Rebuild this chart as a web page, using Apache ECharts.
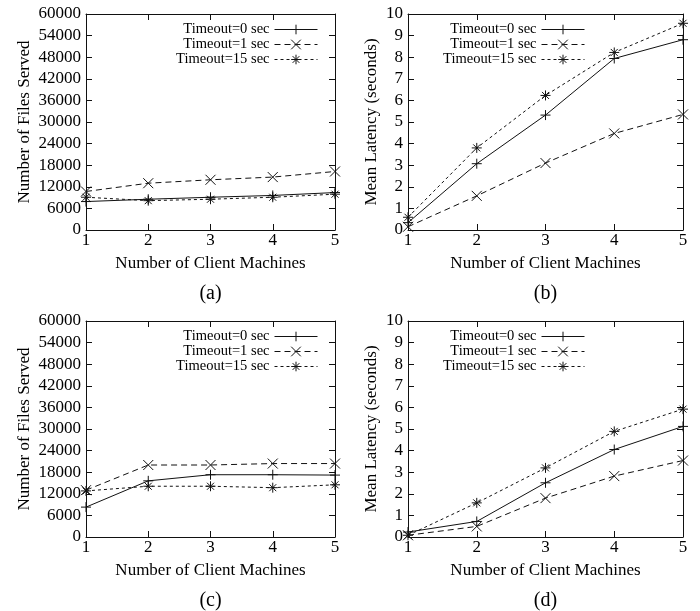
<!DOCTYPE html>
<html lang="en">
<head>
<meta charset="UTF-8">
<title>Files served and latency</title>
<script src="https://cdn.jsdelivr.net/npm/echarts@6/dist/echarts.min.js"></script>
<style>
  html, body { margin: 0; padding: 0; background: #fff; }
  #main { width: 700px; height: 611px; }
</style>
</head>
<body>
<div id="main"></div>
<script>
// x values: number of client machines
var machines = [1, 2, 3, 4, 5];
var seriesNames = ['Timeout=0 sec', 'Timeout=1 sec', 'Timeout=15 sec'];
var panelLabels = ['(a)', '(b)', '(c)', '(d)'];

// (a) number of files served
var filesA_t0 = [7900, 8550, 9100, 9600, 10400];
var filesA_t1 = [10700, 13000, 13950, 14700, 16250];
var filesA_t15 = [9100, 8150, 8550, 9100, 9950];
// (b) mean latency (seconds)
var latB_t0 = [0.34, 3.07, 5.32, 7.94, 8.81];
var latB_t1 = [0.15, 1.58, 3.10, 4.47, 5.35];
var latB_t15 = [0.59, 3.80, 6.23, 8.22, 9.57];
// (c) number of files served
var filesC_t0 = [8300, 15600, 17300, 17300, 17200];
var filesC_t1 = [13000, 20000, 20000, 20400, 20400];
var filesC_t15 = [12800, 14100, 14100, 13700, 14500];
// (d) mean latency (seconds)
var latD_t0 = [0.23, 0.72, 2.51, 4.05, 5.12];
var latD_t1 = [0.08, 0.49, 1.80, 2.82, 3.54];
var latD_t15 = [0.08, 1.58, 3.20, 4.89, 5.92];

var FONT = 'Liberation Serif';
var INK = '#111';

var SYM_PLUS = 'path://M5,0L5,10M0,5L10,5';
var SYM_CROSS = 'path://M0,0L10,10M10,0L0,10';
var SYM_STAR = 'path://M5,0L5,10M0,5L10,5M1.5,1.5L8.5,8.5M8.5,1.5L1.5,8.5';

var styles = [
    {symbol: SYM_PLUS, type: 'solid'},
    {symbol: SYM_CROSS, type: [6, 4]},
    {symbol: SYM_STAR, type: [3, 3]}
];

var panels = [
    {grid: {left: 86, top: 14, width: 249, height: 216}, max: 60000, interval: 6000,
     name: 'Number of Files Served', nameGap: 53, data: [filesA_t0, filesA_t1, filesA_t15]},
    {grid: {left: 408, top: 14, width: 275, height: 216}, max: 10, interval: 1,
     name: 'Mean Latency (seconds)', nameGap: 28, data: [latB_t0, latB_t1, latB_t15]},
    {grid: {left: 86, top: 321, width: 249, height: 216}, max: 60000, interval: 6000,
     name: 'Number of Files Served', nameGap: 53, data: [filesC_t0, filesC_t1, filesC_t15]},
    {grid: {left: 408, top: 321, width: 275, height: 216}, max: 10, interval: 1,
     name: 'Mean Latency (seconds)', nameGap: 28, data: [latD_t0, latD_t1, latD_t15]}
];

function pairs(ys) {
    var out = [];
    for (var i = 0; i < machines.length; i++) out.push([machines[i], ys[i]]);
    return out;
}

var grids = [], xAxes = [], yAxes = [], series = [], titles = [], legends = [];
var axisLine = {show: true, onZero: false, lineStyle: {color: INK, width: 1}};
var tick = {show: true, inside: true, length: 6, lineStyle: {color: INK, width: 1}};

panels.forEach(function (p, i) {
    grids.push(p.grid);
    xAxes.push({
        type: 'value', gridIndex: i, position: 'bottom', min: 1, max: 5, interval: 1,
        axisLine: axisLine, axisTick: tick, splitLine: {show: false},
        axisLabel: {color: '#000', fontFamily: FONT, fontSize: 17, margin: 2},
        name: 'Number of Client Machines', nameLocation: 'middle', nameGap: 25,
        nameTextStyle: {color: '#000', fontFamily: FONT, fontSize: 17}
    });
    xAxes.push({
        type: 'value', gridIndex: i, position: 'top', min: 1, max: 5, interval: 1,
        axisLine: axisLine, axisTick: tick, splitLine: {show: false}, axisLabel: {show: false}
    });
    yAxes.push({
        type: 'value', gridIndex: i, position: 'left', min: 0, max: p.max, interval: p.interval,
        axisLine: axisLine, axisTick: tick, splitLine: {show: false},
        axisLabel: {color: '#000', fontFamily: FONT, fontSize: 17, margin: 5,
            formatter: function (v) { return String(v); }},
        name: p.name, nameLocation: 'middle', nameGap: p.nameGap,
        nameTextStyle: {color: '#000', fontFamily: FONT, fontSize: 17}
    });
    yAxes.push({
        type: 'value', gridIndex: i, position: 'right', min: 0, max: p.max, interval: p.interval,
        axisLine: axisLine, axisTick: tick, splitLine: {show: false}, axisLabel: {show: false}
    });
    p.data.forEach(function (ys, k) {
        series.push({
            name: seriesNames[k], type: 'line',
            xAxisIndex: 2 * i, yAxisIndex: 2 * i,
            data: pairs(ys),
            symbol: styles[k].symbol, symbolSize: 10, showSymbol: true,
            lineStyle: {color: INK, width: 1, type: styles[k].type},
            itemStyle: {color: INK, borderColor: INK, borderWidth: 1},
            emphasis: {disabled: true}
        });
    });
    titles.push({
        text: panelLabels[i], left: p.grid.left + p.grid.width / 2, top: p.grid.top + 270,
        textAlign: 'center', padding: 0,
        textStyle: {color: '#000', fontFamily: FONT, fontSize: 20, fontWeight: 'normal'}
    });
    legends.push({
        data: seriesNames, orient: 'vertical', align: 'right',
        right: 700 - (p.grid.left + p.grid.width) + 17, top: p.grid.top + 8,
        padding: 0, itemGap: 0, itemWidth: 43, itemHeight: 12,
        selectedMode: false,
        lineStyle: {width: 1},
        itemStyle: {borderWidth: 1, borderColor: INK, color: INK},
        textStyle: {color: '#000', fontFamily: FONT, fontSize: 14.5, lineHeight: 14}
    });
});
// legend in (b)/(d) sits further right relative to the frame
legends[1].right = 115;
legends[3].right = 115;

var chart = echarts.init(document.getElementById('main'));
chart.setOption({
    animation: false,
    backgroundColor: '#fff',
    title: titles,
    legend: legends,
    grid: grids,
    xAxis: xAxes,
    yAxis: yAxes,
    series: series
});
</script>
</body>
</html>
